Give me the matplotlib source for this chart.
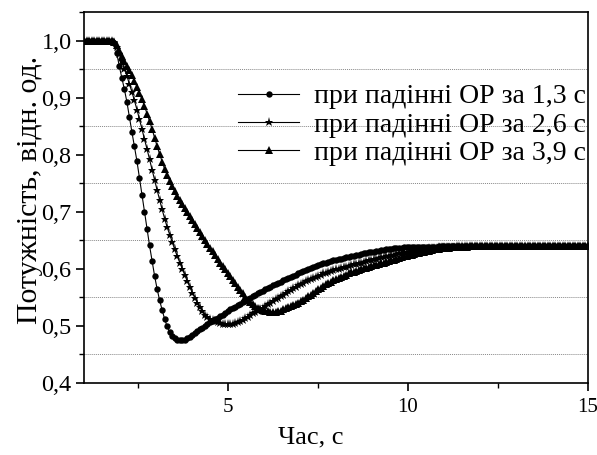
import numpy as np
import matplotlib
matplotlib.use("Agg")
import matplotlib.pyplot as plt
from matplotlib.ticker import MultipleLocator, FuncFormatter

plt.rcParams['font.family'] = ['Liberation Serif', 'DejaVu Serif']

# time step of the sampled series (s), start time
t_start = 1.0
t_step = 0.07

labels = ["при падінні ОР за 1,3 с", "при падінні ОР за 2,6 с", "при падінні ОР за 3,9 с"]
x_label = "Час, с"
y_label = "Потужність, відн. од."

p_13 = [1.000] * 12 + [
    0.995, 0.978, 0.955, 0.935, 0.915, 0.893, 0.866, 0.840, 0.815, 0.789,
    0.760, 0.730, 0.700, 0.670, 0.641, 0.614, 0.588, 0.565, 0.545, 0.528,
    0.512, 0.499, 0.489, 0.482, 0.478, 0.476, 0.475, 0.475, 0.476, 0.478,
    0.481, 0.484, 0.487, 0.491, 0.494, 0.497, 0.500, 0.503, 0.506, 0.509,
    0.512, 0.514, 0.517, 0.520, 0.523, 0.526, 0.529, 0.532, 0.534, 0.537,
    0.539, 0.542, 0.544, 0.547, 0.549, 0.552, 0.554, 0.557, 0.559, 0.561,
    0.564, 0.566, 0.568, 0.571, 0.573, 0.575, 0.577, 0.580, 0.582, 0.584,
    0.586, 0.588, 0.590, 0.592, 0.594, 0.596, 0.598, 0.600, 0.602, 0.604,
    0.605, 0.607, 0.608, 0.610, 0.611, 0.612, 0.614, 0.615, 0.616, 0.617,
    0.618, 0.619, 0.620, 0.621, 0.622, 0.623, 0.624, 0.625, 0.626, 0.627,
    0.628, 0.629, 0.630, 0.630, 0.631, 0.632, 0.633, 0.633, 0.634, 0.635,
    0.635, 0.636, 0.636, 0.637, 0.637, 0.638, 0.638, 0.638, 0.639,
] + [0.639] * 10 + [0.640] * 60

p_26 = [1.000] * 12 + [
    0.997, 0.989, 0.977, 0.964, 0.951, 0.938, 0.924, 0.910, 0.895, 0.879,
    0.862, 0.845, 0.827, 0.810, 0.792, 0.774, 0.756, 0.738, 0.721, 0.704,
    0.688, 0.673, 0.660, 0.647, 0.634, 0.622, 0.611, 0.600, 0.589, 0.578,
    0.568, 0.558, 0.549, 0.541, 0.533, 0.526, 0.520, 0.516, 0.513, 0.510,
    0.508, 0.506, 0.505, 0.504, 0.503, 0.503, 0.503, 0.504, 0.505, 0.507,
    0.509, 0.511, 0.514, 0.516, 0.519, 0.522, 0.524, 0.527, 0.529, 0.532,
    0.535, 0.538, 0.541, 0.544, 0.547, 0.549, 0.552, 0.555, 0.558, 0.561,
    0.563, 0.566, 0.568, 0.571, 0.573, 0.576, 0.578, 0.580, 0.582, 0.584,
    0.586, 0.588, 0.590, 0.592, 0.593, 0.595, 0.596, 0.598, 0.599, 0.600,
    0.602, 0.603, 0.604, 0.605, 0.607, 0.608, 0.609, 0.610, 0.611, 0.612,
    0.614, 0.615, 0.616, 0.617, 0.618, 0.619, 0.620, 0.621, 0.622, 0.623,
    0.624, 0.625, 0.626, 0.627, 0.628, 0.629, 0.630, 0.630, 0.631, 0.632,
    0.633, 0.633, 0.634, 0.635, 0.635, 0.636, 0.636, 0.637, 0.637, 0.638,
    0.638, 0.638, 0.639, 0.639, 0.639, 0.639,
] + [0.640] * 53

p_39 = [1.000] * 12 + [
    0.998, 0.992, 0.983, 0.973, 0.964, 0.955, 0.948, 0.939, 0.929, 0.919,
    0.908, 0.897, 0.885, 0.872, 0.859, 0.845, 0.830, 0.815, 0.801, 0.788,
    0.775, 0.764, 0.754, 0.745, 0.736, 0.728, 0.720, 0.713, 0.706, 0.699,
    0.692, 0.685, 0.678, 0.671, 0.664, 0.657, 0.651, 0.644, 0.637, 0.631,
    0.624, 0.618, 0.611, 0.605, 0.599, 0.593, 0.587, 0.581, 0.575, 0.569,
    0.563, 0.557, 0.551, 0.546, 0.542, 0.538, 0.535, 0.532, 0.530, 0.528,
    0.527, 0.526, 0.525, 0.525, 0.525, 0.526, 0.527, 0.529, 0.531, 0.533,
    0.535, 0.537, 0.539, 0.541, 0.544, 0.546, 0.549, 0.552, 0.555, 0.558,
    0.561, 0.564, 0.567, 0.570, 0.573, 0.575, 0.577, 0.580, 0.582, 0.584,
    0.586, 0.588, 0.590, 0.592, 0.594, 0.595, 0.597, 0.598, 0.600, 0.601,
    0.602, 0.604, 0.605, 0.606, 0.607, 0.609, 0.610, 0.611, 0.612, 0.614,
    0.615, 0.616, 0.618, 0.619, 0.620, 0.622, 0.623, 0.624, 0.625, 0.626,
    0.627, 0.628, 0.629, 0.630, 0.631, 0.632, 0.633, 0.634, 0.635, 0.635,
    0.636, 0.636, 0.637, 0.637, 0.638, 0.638, 0.638, 0.639, 0.639, 0.639,
    0.639,
] + [0.640] * 48

series = [p_13, p_26, p_39]
markers = ["o", "*", "^"]
msizes = [4.6, 6.5, 5.6]

fig = plt.figure(figsize=(5.97, 4.55), dpi=100)
ax = fig.add_axes([84 / 597, 1 - 383 / 455, (588 - 84) / 597, (383 - 12) / 455])

for vals, mk, ms, lab in zip(series, markers, msizes, labels):
    v = np.array(vals)
    t = t_start + t_step * np.arange(len(v))
    ax.plot(t, v, color="black", lw=0.8, marker=mk, markersize=ms,
            markeredgewidth=0, label=lab)

ax.set_xlim(1, 15)
ax.set_ylim(0.4, 1.05)
ax.xaxis.set_major_locator(MultipleLocator(5))
ax.xaxis.set_minor_locator(MultipleLocator(2.5))
ax.yaxis.set_major_locator(MultipleLocator(0.1))
ax.yaxis.set_minor_locator(MultipleLocator(0.05))
ax.yaxis.set_major_formatter(FuncFormatter(lambda v, p: f"{v:.1f}".replace(".", ",")))

# dotted grid at the minor y positions (0.45, 0.55, ...)
for gy in np.arange(0.45, 1.0, 0.1):
    ax.axhline(gy, color="#888888", lw=0.7, ls=(0, (1, 1)), zorder=0)

ax.tick_params(which="major", direction="out", length=6, width=1.2)
ax.tick_params(which="minor", direction="out", length=3.5, width=1.0)
ax.tick_params(axis="y", which="major", labelsize=17.5, pad=3)
ax.tick_params(axis="x", which="major", labelsize=15, pad=5)
for s in ax.spines.values():
    s.set_linewidth(1.2)

ax.set_xlabel(x_label, fontsize=19)
ax.xaxis.set_label_coords((311 - 84) / 504, (383 - 437) / 371)
ax.xaxis.label.set_va("center")
ax.set_ylabel(y_label, fontsize=21.5)
ax.yaxis.set_label_coords((30 - 84) / 504, (383 - 190) / 371)
ax.yaxis.label.set_va("center")

leg = ax.legend(loc="upper left", bbox_to_anchor=((238 - 84) / 504, (383 - 84) / 371),
                frameon=False, fontsize=20, handlelength=2.2, handletextpad=0.55,
                labelspacing=0.1, borderaxespad=0, borderpad=0)

fig.savefig("out.png", dpi=100)
